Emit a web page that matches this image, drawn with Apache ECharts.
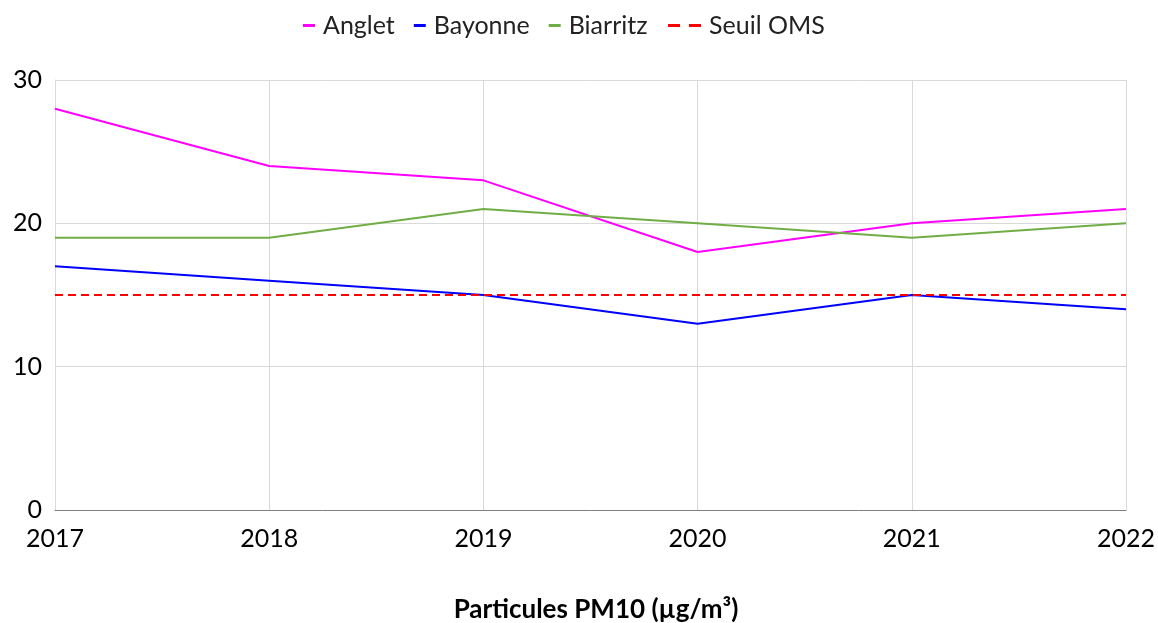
<!DOCTYPE html>
<html><head><meta charset="utf-8">
<script src="https://cdn.jsdelivr.net/npm/echarts@6/dist/echarts.min.js"></script>
<style>html,body{margin:0;padding:0;background:#fff}#c{width:1158px;height:623px}</style>
</head><body><div id="c"></div>
<script>
const years = ['2017','2018','2019','2020','2021','2022'];
const anglet = [28, 24, 23, 18, 20, 21];
const bayonne = [17, 16, 15, 13, 15, 14];
const biarritz = [19, 19, 21, 20, 19, 20];
const seuil = [15, 15, 15, 15, 15, 15];
const yTicks = [0, 10, 20, 30];
const title = 'Particules PM10 (µg/m³)';

const font = 'Lato, "Open Sans", sans-serif';
const chart = echarts.init(document.getElementById('c'));
const line = (name, data, color, dashed) => ({
  name, type: 'line', data, symbol: 'none', animation: false,
  lineStyle: { color, width: 2, type: dashed ? [8, 5] : 'solid' },
  itemStyle: { color }
});
const legendText = { fontFamily: font, fontSize: 25, color: '#222', padding: [0, 0, 0, 3] };
chart.setOption({
  backgroundColor: '#fff',
  textStyle: { fontFamily: font },
  title: {
    text: title, left: 591, textAlign: 'center', top: 592,
    textStyle: { fontFamily: font, fontSize: 26, fontWeight: 'bold', color: '#000' }
  },
  legend: [{
    top: 8, left: 298, itemGap: 19,
    textStyle: legendText,
    data: [
      { name: 'Anglet', icon: 'rect', itemStyle: { color: '#FF00FF' } },
      { name: 'Bayonne', icon: 'rect', itemStyle: { color: '#0000FF' } },
      { name: 'Biarritz', icon: 'rect', itemStyle: { color: '#70AD47' } }
    ],
    itemWidth: 12, itemHeight: 3
  }, {
    top: 8, left: 663,
    textStyle: legendText,
    data: [
      { name: 'Seuil OMS', icon: 'path://M0,0h12v3h-12z M21,0h12v3h-12z', itemStyle: { color: '#FF0000' } }
    ],
    itemWidth: 33, itemHeight: 3
  }],
  grid: { left: 55, right: 31, top: 80, bottom: 113, containLabel: false },
  xAxis: {
    type: 'category', data: years, boundaryGap: false,
    axisLine: { lineStyle: { color: '#7f7f7f', width: 1 } },
    axisTick: { show: false },
    axisLabel: { fontSize: 25, color: '#000', margin: 16, fontFamily: font },
    splitLine: { show: true, lineStyle: { color: '#d9d9d9', width: 1 } }
  },
  yAxis: {
    type: 'value', min: yTicks[0], max: yTicks[yTicks.length - 1], interval: 10,
    axisLine: { show: true, lineStyle: { color: '#d9d9d9' } },
    axisTick: { show: false },
    axisLabel: { fontSize: 25, color: '#000', margin: 13, fontFamily: font },
    splitLine: { show: true, lineStyle: { color: '#d9d9d9', width: 1 } }
  },
  series: [
    line('Anglet', anglet, '#FF00FF'),
    line('Bayonne', bayonne, '#0000FF'),
    line('Biarritz', biarritz, '#70AD47'),
    line('Seuil OMS', seuil, '#FF0000', true)
  ]
});
</script></body></html>
